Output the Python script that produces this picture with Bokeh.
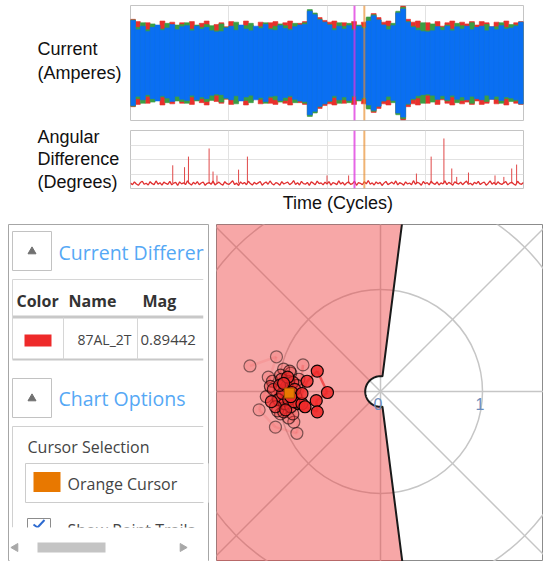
import numpy as np
from bokeh.plotting import figure
from bokeh.models import Range1d, Span
from bokeh.layouts import column, row
from bokeh.embed import file_html
from bokeh.resources import INLINE
from bokeh.core.properties import value

# ---------------- data ----------------
bin_start = list(range(0, 400, 5))          # time bins (cycles)
bin_width = 5
blue_amp = [0.74, 0.58, 0.64, 0.55, 0.62, 0.66, 0.57, 0.61, 0.67, 0.58,
            0.63, 0.65, 0.56, 0.64, 0.59, 0.62, 0.56, 0.54, 0.55, 0.61,
            0.64, 0.57, 0.66, 0.59, 0.56, 0.64, 0.60, 0.67, 0.58, 0.57,
            0.65, 0.60, 0.57, 0.63, 0.66, 0.67, 0.90, 0.84, 0.75, 0.71,
            0.66, 0.57, 0.64, 0.59, 0.65, 0.57, 0.64, 0.60, 0.73, 0.82,
            0.75, 0.66, 0.58, 0.65, 0.87, 0.94, 0.71, 0.62, 0.57, 0.55,
            0.54, 0.56, 0.63, 0.57, 0.64, 0.56, 0.63, 0.59, 0.64, 0.58,
            0.62, 0.64, 0.56, 0.63, 0.58, 0.65, 0.59, 0.61, 0.64, 0.71]
red_amp = [0.76, 0.72, 0.63, 0.70, 0.66, 0.60, 0.73, 0.65, 0.71, 0.62,
           0.70, 0.64, 0.72, 0.62, 0.69, 0.73, 0.61, 0.67, 0.70, 0.63,
           0.72, 0.68, 0.62, 0.73, 0.66, 0.61, 0.71, 0.64, 0.70, 0.72,
           0.62, 0.70, 0.73, 0.64, 0.69, 0.72, 0.91, 0.86, 0.79, 0.74,
           0.71, 0.73, 0.63, 0.70, 0.66, 0.72, 0.62, 0.71, 0.78, 0.86,
           0.79, 0.71, 0.73, 0.66, 0.88, 0.99, 0.76, 0.71, 0.73, 0.68,
           0.70, 0.66, 0.72, 0.64, 0.70, 0.73, 0.62, 0.71, 0.68, 0.72,
           0.66, 0.72, 0.70, 0.63, 0.71, 0.68, 0.73, 0.64, 0.70, 0.72]
green_amp = [0.75, 0.62, 0.70, 0.58, 0.68, 0.64, 0.59, 0.69, 0.62, 0.66,
             0.67, 0.70, 0.59, 0.66, 0.62, 0.67, 0.65, 0.56, 0.68, 0.62,
             0.63, 0.71, 0.60, 0.65, 0.69, 0.58, 0.63, 0.70, 0.60, 0.64,
             0.68, 0.65, 0.59, 0.69, 0.66, 0.70, 0.93, 0.87, 0.76, 0.71,
             0.67, 0.60, 0.70, 0.64, 0.69, 0.59, 0.66, 0.62, 0.80, 0.84,
             0.75, 0.66, 0.64, 0.69, 0.90, 0.97, 0.72, 0.64, 0.61, 0.70,
             0.56, 0.68, 0.63, 0.62, 0.66, 0.59, 0.69, 0.65, 0.63, 0.70,
             0.61, 0.63, 0.67, 0.62, 0.63, 0.70, 0.62, 0.67, 0.66, 0.71]

ang_t = list(range(0, 401, 2))
ang_deg = [0.38, 0.26, 0.45, 0.31, 0.22, 0.41, 0.50, 0.29, 0.36, 0.24,
           0.47, 0.33, 0.27, 0.52, 0.30, 0.40, 0.23, 0.44, 0.35, 0.28,
           0.49, 0.25, 0.37, 0.42, 0.21, 0.46, 0.32, 0.39, 0.27, 0.53,
           0.34, 0.24, 0.43, 0.30, 0.48, 0.26, 0.38, 0.45, 0.22, 0.36,
           0.41, 0.29, 0.51, 0.25, 0.35, 0.44, 0.31, 0.23, 0.47, 0.33,
           0.28, 0.40, 0.54, 0.27, 0.37, 0.21, 0.46, 0.32, 0.42, 0.26,
           0.50, 0.34, 0.24, 0.43, 0.30, 0.39, 0.48, 0.22, 0.36, 0.45,
           0.29, 0.52, 0.33, 0.25, 0.41, 0.35, 0.23, 0.47, 0.31, 0.38,
           0.44, 0.27, 0.36, 0.55, 0.28, 0.40, 0.24, 0.49, 0.34, 0.30,
           0.42, 0.22, 0.46, 0.37, 0.26, 0.51, 0.33, 0.39, 0.25, 0.44,
           0.31, 0.48, 0.23, 0.40, 0.35, 0.27, 0.53, 0.30, 0.43, 0.24,
           0.38, 0.46, 0.28, 0.34, 0.50, 0.22, 0.41, 0.36, 0.26, 0.47,
           0.32, 0.55, 0.29, 0.39, 0.24, 0.45, 0.33, 0.42, 0.21, 0.37,
           0.49, 0.27, 0.35, 0.44, 0.30, 0.52, 0.25, 0.40, 0.34, 0.23,
           0.46, 0.31, 0.38, 0.26, 0.54, 0.29, 0.43, 0.36, 0.22, 0.48,
           0.33, 0.41, 0.25, 0.50, 0.35, 0.28, 0.45, 0.24, 0.39, 0.31,
           0.53, 0.27, 0.42, 0.34, 0.22, 0.47, 0.37, 0.30, 0.44, 0.26,
           0.40, 0.51, 0.29, 0.36, 0.24, 0.43, 0.32, 0.49, 0.27, 0.38,
           0.45, 0.23, 0.35, 0.52, 0.30, 0.41, 0.26, 0.46, 0.33, 0.28,
           0.39, 0.48, 0.25, 0.37, 0.43, 0.31, 0.22, 0.50, 0.34, 0.29,
           0.42]
spike_t = [43, 55, 59, 80, 84, 88, 110, 119, 200, 222,
           291, 306, 319, 327, 332, 344, 371, 380, 388, 393]
spike_deg = [1.60, 1.47, 2.20, 2.76, 1.17, 0.90, 1.30, 2.20, 0.90, 0.90,
             1.03, 2.20, 3.45, 1.38, 0.80, 1.10, 0.90, 0.80, 1.38, 1.65]
spike_base = 0.35

magenta_cursor = 228
orange_cursor = 238

# polar trail, oldest -> newest
trail_x = [-1.28, -1.02, -1.19, -1.03, -0.82, -0.76, -0.85, -1.10, -0.95, -0.88,
           -1.06, -0.98, -0.90, -1.12, -0.80,
           -0.98, -0.89, -1.01, -0.86, -0.93, -0.97, -0.82, -1.08, -0.90, -0.95,
           -1.05, -0.97, -0.92, -0.86, -1.00, -0.94, -0.88, -0.83, -1.03, -0.96,
           -0.90, -0.84, -0.99, -0.93, -0.87, -1.07, -0.91, -0.80, -0.95,
           -0.85, -0.77, -0.77, -0.72, -0.62, -0.52, -0.63, -0.62, -0.74, -0.88]
trail_y = [0.25, 0.34, -0.18, -0.35, -0.41, 0.26, -0.30, 0.14, 0.22, 0.18,
           0.10, -0.22, -0.26, -0.05, 0.12,
           0.16, 0.20, -0.19, -0.22, 0.00, -0.05, 0.06, 0.05, 0.10, -0.20,
           0.02, 0.12, 0.05, 0.09, -0.08, -0.12, -0.15, -0.05, -0.15, -0.02,
           -0.08, 0.02, 0.06, -0.18, -0.01, -0.10, 0.14, -0.12, 0.08,
           -0.10, -0.12, -0.02, 0.10, 0.20, -0.01, -0.09, -0.20, -0.15, -0.05]
cursor_mag = 0.89442
cursor_ang_deg = 181.0
rings = [1, 2, 3]
spokes_deg = [0, 45, 90, 135]
ring_labels = ["0", "1"]
ring_label_r = [0, 1]
char_angle_deg = 82.7
char_radius = 0.15

y_labels = ["Current", "(Amperes)", "Angular", "Difference", "(Degrees)"]
x_label = "Time (Cycles)"
section_titles = ["Current Differences", "Chart Options"]
table_headers = ["Color", "Name", "Mag"]
table_name = "87AL_2T"
table_mag = "0.89442"
cursor_title = "Cursor Selection"
cursor_option = "Orange Cursor"
trails_option = "Show Point Trails"

# ---------------- styles ----------------
FONT = "Liberation Sans"
UI_FONT = "Open Sans"
BLUE = "#0a6ff2"
RED = "#e8302c"
GREEN = "#3a9e44"
MAGENTA = "#dd33dd"
ORANGE = "#e88a28"


def base_fig(**kw):
    p = figure(output_backend="svg", toolbar_location=None, **kw)
    p.axis.visible = False
    p.background_fill_color = "white"
    p.border_fill_color = "white"
    return p


def text_fig(w, h, x0, y0):
    """A plain canvas whose data coordinates are page pixels (y down)."""
    p = base_fig(width=w, height=h, x_range=Range1d(x0, x0 + w), y_range=Range1d(y0 + h, y0),
                 min_border_left=0, min_border_right=0, min_border_top=0, min_border_bottom=0)
    p.grid.visible = False
    p.outline_line_color = None
    return p


# ---------------- left titles ----------------
lab = text_fig(130, 216, 0, 0)
lab.text(x=[37] * 5, y=[48, 72, 136, 158, 181], text=y_labels, text_font=value(FONT),
         text_font_size="18px", text_baseline="middle", text_color="#111111")

# ---------------- current chart ----------------
top = base_fig(width=413, height=125, x_range=Range1d(0, 400), y_range=Range1d(-1.0, 1.0),
               min_border_left=0, min_border_right=20, min_border_top=5, min_border_bottom=5)
top.xgrid.ticker = [100, 200, 300]
top.xgrid.grid_line_color = "#e2e2e2"
top.ygrid.visible = False
top.outline_line_color = "#c4c4c4"
bin_end = [b + bin_width for b in bin_start]
for amp, col in ((red_amp, RED), (green_amp, GREEN), (blue_amp, BLUE)):
    top.quad(left=bin_start, right=bin_end, bottom=[-a for a in amp], top=amp,
             fill_color=col, line_color=col, line_width=0.6)
for loc, col, al in ((magenta_cursor, MAGENTA, 0.75), (orange_cursor, ORANGE, 0.65)):
    top.add_layout(Span(location=loc, dimension="height", line_color=col, line_alpha=al, line_width=2))

# ---------------- angular difference chart ----------------
ang = base_fig(width=413, height=65, x_range=Range1d(0, 400), y_range=Range1d(0, 4),
               min_border_left=0, min_border_right=20, min_border_top=5, min_border_bottom=2)
ang.xgrid.ticker = [100, 200, 300]
ang.ygrid.ticker = [1, 2, 3]
ang.grid.grid_line_color = "#e2e2e2"
ang.outline_line_color = "#c4c4c4"
ang.segment(x0=spike_t, y0=[spike_base] * len(spike_t), x1=spike_t, y1=spike_deg,
            line_color="#e04848", line_width=1)
ang.line(ang_t, ang_deg, line_color="#e03030", line_width=1.3)
for loc, col, al in ((magenta_cursor, MAGENTA, 0.75), (orange_cursor, ORANGE, 0.65)):
    ang.add_layout(Span(location=loc, dimension="height", line_color=col, line_alpha=al, line_width=2))

xlab = text_fig(413, 26, 130, 190)
xlab.text(x=[348], y=[202], text=[x_label], text_font=value(FONT), text_font_size="18px",
          text_baseline="middle", text_align="center", text_color="#111111")

# ---------------- side panel (page-pixel coordinates) ----------------
pan = base_fig(width=216, height=345, x_range=Range1d(8, 208), y_range=Range1d(561, 224),
               min_border_left=8, min_border_right=8, min_border_top=8, min_border_bottom=0)
pan.grid.visible = False
pan.outline_line_color = "#a6a6a6"

pan.quad(left=[12, 12], right=[51, 51], top=[231, 378], bottom=[270, 417],
         fill_color="white", line_color="#c2c2c2", line_width=1)
pan.scatter(x=[31.5, 31.5], y=[251, 398], marker="triangle", size=8,
            fill_color="#707070", line_color="#707070")
pan.text(x=[58, 58], y=[252, 398], text=section_titles, text_font=value(UI_FONT),
         text_font_size="19.5px", text_baseline="middle", text_color="#55a8f5")

pan.segment(x0=[12, 12, 12, 12, 63, 137], y0=[279, 316.5, 359, 279, 317, 317],
            x1=[203, 203, 203, 12, 63, 137], y1=[279, 316.5, 359, 359, 359, 359],
            line_color=["#d6d6d6", "#c8c8c8", "#c8c8c8", "#d6d6d6", "#d6d6d6", "#d6d6d6"],
            line_width=[1, 3, 2, 1, 1, 1])
pan.text(x=[16, 68, 142], y=[300, 300, 300], text=table_headers, text_font=value(UI_FONT),
         text_font_size="16px", text_font_style="bold", text_baseline="middle",
         text_color="#333333")
pan.quad(left=[24], right=[51], top=[334], bottom=[346], fill_color="#ee2a2a", line_color=None)
pan.text(x=[77], y=[339], text=[table_name], text_font=value(UI_FONT),
         text_font_size="14px", text_baseline="middle", text_color="#444444")
pan.text(x=[140], y=[339], text=[table_mag], text_font=value(UI_FONT),
         text_font_size="15px", text_baseline="middle", text_color="#444444")

pan.segment(x0=[12, 12], y0=[426, 426], x1=[203, 12], y1=[426, 527],
            line_color="#d0d0d0", line_width=1)
pan.text(x=[27], y=[446], text=[cursor_title], text_font=value(UI_FONT),
         text_font_size="16px", text_baseline="middle", text_color="#444444")
pan.quad(left=[25], right=[210], top=[463], bottom=[502], fill_color="white",
         line_color="#cccccc", line_width=1)
pan.quad(left=[33], right=[60], top=[471.5], bottom=[491.5], fill_color="#e87800", line_color=None)
pan.text(x=[67], y=[483], text=[cursor_option], text_font=value(UI_FONT),
         text_font_size="16px", text_baseline="middle", text_color="#444444")
pan.quad(left=[27], right=[50], top=[518], bottom=[541], fill_color="white",
         line_color="#8c8c8c", line_width=1)
pan.line(x=[33, 37, 44], y=[524, 527, 519.5], line_color="#2e6bd0", line_width=2)
pan.text(x=[67], y=[529], text=[trails_option], text_font=value(UI_FONT),
         text_font_size="16px", text_baseline="middle", text_color="#444444")

pan.quad(left=[9, 203], right=[207.5, 207.5], top=[527, 225], bottom=[560.5, 560.5],
         fill_color="white", line_color=None)
pan.quad(left=[37], right=[105], top=[542], bottom=[552], fill_color="#c4c4c4", line_color=None)
pan.scatter(x=[15, 182], y=[547, 547], marker="triangle", size=8,
            angle=[np.pi / 2, -np.pi / 2], fill_color="#a8a8a8", line_color="#a8a8a8")

# ---------------- polar chart ----------------
pol = base_fig(width=327, height=345, x_range=Range1d(-1.608, 1.598), y_range=Range1d(-1.667, 1.637),
               min_border_left=0, min_border_right=0, min_border_top=8, min_border_bottom=0)
pol.grid.visible = False
pol.outline_line_color = "#8c8c8c"

GRID = "#c6c6c6"
pol.circle(x=[0] * len(rings), y=[0] * len(rings), radius=rings, fill_color=None,
           line_color=GRID, line_width=1.5)
sp = np.deg2rad(spokes_deg)
pol.segment(x0=-4 * np.cos(sp), y0=-4 * np.sin(sp), x1=4 * np.cos(sp), y1=4 * np.sin(sp),
            line_color=GRID, line_width=1.5)

a = np.deg2rad(char_angle_deg)
arc = np.linspace(a, 2 * np.pi - a, 60)
R = 6.0
bx = np.concatenate([[R * np.cos(a)], char_radius * np.cos(arc), [R * np.cos(a)]])
by = np.concatenate([[R * np.sin(a)], char_radius * np.sin(arc), [-R * np.sin(a)]])
pol.patch(np.concatenate([bx, [-R, -R]]), np.concatenate([by, [-R, R]]),
          fill_color="#ee3b3b", fill_alpha=0.45, line_color=None)
pol.line(bx, by, line_color="#1a1a1a", line_width=2)

pol.text(x=[r - 0.025 for r in ring_label_r], y=[-0.118] * len(ring_labels), text=ring_labels,
         text_font=value(FONT), text_font_size="16px", text_align="center",
         text_baseline="middle", text_color="#6c8cbc")

n = len(trail_x)
age = np.linspace(0, 1, n)
fill_alpha = 0.12 + 0.83 * age ** 1.5
line_alpha = 0.45 + 0.55 * age
pol.segment(x0=trail_x[:-1], y0=trail_y[:-1], x1=trail_x[1:], y1=trail_y[1:],
            line_color="#ee2a2a", line_width=2.5, line_alpha=fill_alpha[1:] * 0.8)
pol.scatter(x=trail_x, y=trail_y, size=12, marker="circle", fill_color="#f02a2a",
            fill_alpha=fill_alpha, line_color="black", line_alpha=line_alpha, line_width=1.2)
ca = np.deg2rad(cursor_ang_deg)
pol.scatter(x=[cursor_mag * np.cos(ca)], y=[cursor_mag * np.sin(ca)], marker="square", size=10,
            fill_color="#e87a00", line_color="#a85400", line_width=1)

layout = column(row(lab, column(top, ang, xlab)), row(pan, pol))
open("out.html", "w").write(file_html(layout, INLINE))
